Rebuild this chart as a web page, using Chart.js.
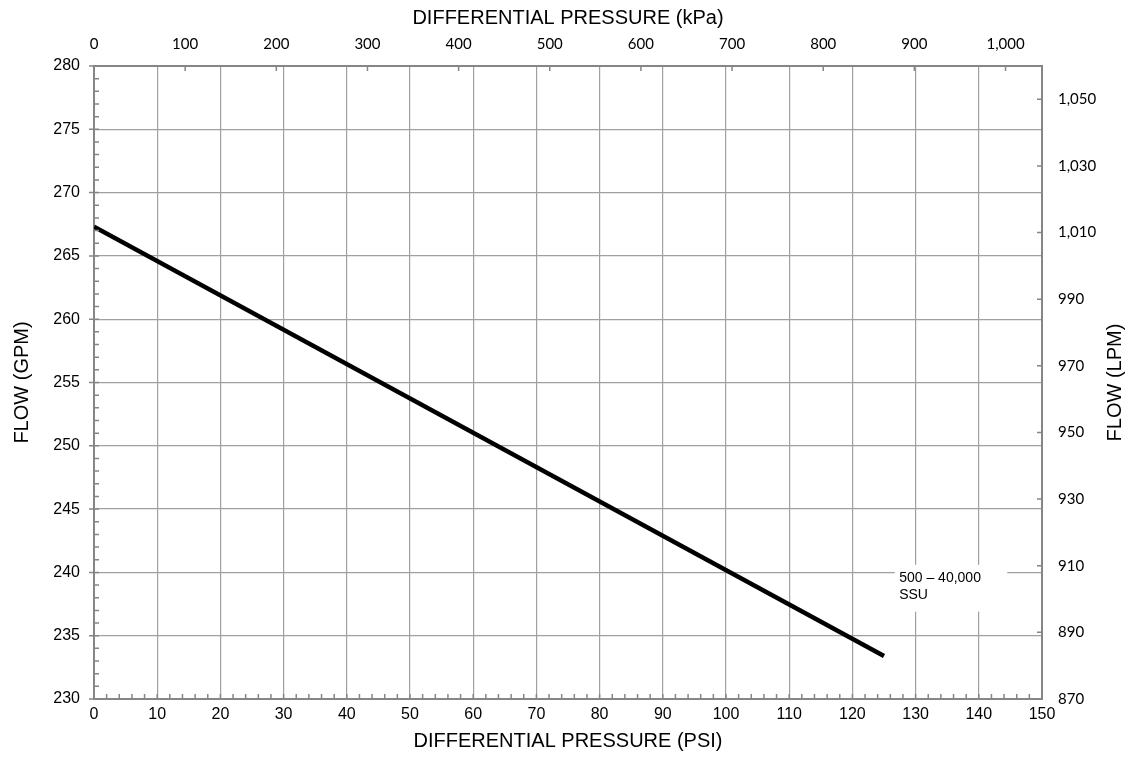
<!DOCTYPE html>
<html>
<head>
<meta charset="utf-8">
<title>Flow vs Differential Pressure</title>
<script src="https://cdn.jsdelivr.net/npm/chart.js@4"></script>
<style>
  html, body { margin: 0; padding: 0; background: #fff; }
  #wrap { width: 1130px; height: 759px; position: relative; }
</style>
</head>
<body>
<div id="wrap"><canvas id="flowChart"></canvas></div>
<script>
// flow curve, PSI vs GPM
const psi = [0, 125];
const gpm = [267.3, 233.4];

// axis ticks
const psiTicks = [0, 10, 20, 30, 40, 50, 60, 70, 80, 90, 100, 110, 120, 130, 140, 150];
const gpmTicks = [230, 235, 240, 245, 250, 255, 260, 265, 270, 275, 280];
const kpaTicks = [0, 100, 200, 300, 400, 500, 600, 700, 800, 900, 1000];
const lpmTicks = [870, 890, 910, 930, 950, 970, 990, 1010, 1030, 1050];

const viscosityLabel = ['500 \u2013 40,000', 'SSU'];

const GRID = '#a0a0a0';
const AXIS = '#868686';
const ARIAL = '"Liberation Sans", Arial, sans-serif';
const CALI = 'Lato, "Open Sans", sans-serif';

const useTicks = (list) => (scale) => {
    scale.ticks = list.map(v => ({ value: v }));
};
const fmt = (v) => Number(v).toLocaleString('en-US');

// --- small tick marks along all four axes ---
const tickMarks = {
    id: 'tickMarks',
    afterDraw(chart) {
        const { ctx, chartArea: a, scales } = chart;
        ctx.save();
        ctx.strokeStyle = AXIS;
        ctx.lineWidth = 1.5;
        ctx.beginPath();
        for (let v = 0; v <= 150; v += 2) {
            const x = scales.x.getPixelForValue(v);
            ctx.moveTo(x, a.bottom);
            ctx.lineTo(x, a.bottom - 5);
        }
        for (let v = 230; v <= 280; v += 1) {
            const y = scales.y.getPixelForValue(v);
            ctx.moveTo(a.left, y);
            ctx.lineTo(a.left + 5, y);
        }
        gpmTicks.forEach(v => {
            const y = scales.y.getPixelForValue(v);
            ctx.moveTo(a.left - 5, y);
            ctx.lineTo(a.left, y);
        });
        kpaTicks.forEach(v => {
            const x = scales.x2.getPixelForValue(v);
            ctx.moveTo(x, a.top);
            ctx.lineTo(x, a.top + 5);
        });
        lpmTicks.forEach(v => {
            const y = scales.y2.getPixelForValue(v);
            ctx.moveTo(a.right - 5, y);
            ctx.lineTo(a.right, y);
        });
        ctx.stroke();

        // right axis title, reading upward
        ctx.fillStyle = '#000';
        ctx.font = '20px ' + ARIAL;
        ctx.textAlign = 'center';
        ctx.textBaseline = 'middle';
        ctx.translate(1115, (a.top + a.bottom) / 2);
        ctx.rotate(-Math.PI / 2);
        ctx.fillText('FLOW (LPM)', 0, 0);
        ctx.restore();
    }
};

// --- viscosity note on a white box ---
const noteBox = {
    id: 'noteBox',
    afterDatasetsDraw(chart) {
        const { ctx, scales: { x, y } } = chart;
        const x0 = x.getPixelForValue(126.7), x1 = x.getPixelForValue(144.5);
        const y0 = y.getPixelForValue(240.6), y1 = y.getPixelForValue(236.9);
        ctx.save();
        ctx.fillStyle = '#fff';
        ctx.fillRect(x0, y0, x1 - x0, y1 - y0);
        ctx.fillStyle = '#000';
        ctx.font = '14px ' + ARIAL;
        ctx.textBaseline = 'middle';
        const tx = x.getPixelForValue(127.4);
        ctx.fillText(viscosityLabel[0], tx, y.getPixelForValue(239.55));
        ctx.fillText(viscosityLabel[1], tx, y.getPixelForValue(238.2));
        ctx.restore();
    }
};

const ctx = document.getElementById('flowChart').getContext('2d');
new Chart(ctx, {
    type: 'line',
    data: {
        datasets: [{
            data: psi.map((p, i) => ({ x: p, y: gpm[i] })),
            borderColor: '#000',
            borderWidth: 4.5,
            pointRadius: 0,
            tension: 0,
            fill: false
        }]
    },
    options: {
        responsive: true,
        maintainAspectRatio: false,
        animation: false,
        devicePixelRatio: 1,
        layout: { padding: 0 },
        plugins: {
            legend: { display: false },
            tooltip: { enabled: false }
        },
        scales: {
            x: {
                type: 'linear',
                position: 'bottom',
                min: 0,
                max: 150,
                afterBuildTicks: useTicks(psiTicks),
                afterFit: s => { s.height = 60; },
                grid: { color: GRID, lineWidth: 1.2, drawTicks: false },
                border: { color: AXIS, width: 2 },
                ticks: {
                    padding: 6, maxRotation: 0, autoSkip: false, color: '#000',
                    font: { family: ARIAL, size: 16 }
                },
                title: {
                    display: true, text: 'DIFFERENTIAL PRESSURE (PSI)', color: '#000',
                    font: { family: ARIAL, size: 20 }, padding: { top: 0, bottom: 6 }
                }
            },
            x2: {
                type: 'linear',
                axis: 'x',
                position: 'top',
                min: 0,
                max: 1040,
                afterBuildTicks: useTicks(kpaTicks),
                afterFit: s => { s.height = 66; },
                grid: { display: false, drawTicks: false },
                border: { color: AXIS, width: 2 },
                ticks: {
                    padding: 13, maxRotation: 0, autoSkip: false, color: '#000',
                    font: { family: CALI, size: 15 },
                    callback: v => fmt(v)
                },
                title: {
                    display: true, text: 'DIFFERENTIAL PRESSURE (kPa)', color: '#000',
                    font: { family: ARIAL, size: 20 }, padding: { top: 6, bottom: 0 }
                }
            },
            y: {
                type: 'linear',
                position: 'left',
                min: 230,
                max: 280,
                afterBuildTicks: useTicks(gpmTicks),
                afterFit: s => { s.width = 94; },
                grid: { color: GRID, lineWidth: 1.2, drawTicks: false },
                border: { color: AXIS, width: 2 },
                ticks: {
                    padding: 14, color: '#000',
                    font: { family: ARIAL, size: 16 }
                },
                title: {
                    display: true, text: 'FLOW (GPM)', color: '#000',
                    font: { family: ARIAL, size: 20 }, padding: { top: 10, bottom: 0 }
                }
            },
            y2: {
                type: 'linear',
                axis: 'y',
                position: 'right',
                min: 870,
                max: 1060,
                afterBuildTicks: useTicks(lpmTicks),
                afterFit: s => { s.width = 88; },
                grid: { display: false, drawTicks: false },
                border: { color: AXIS, width: 2 },
                ticks: {
                    padding: 16, color: '#000',
                    font: { family: CALI, size: 15 },
                    callback: v => fmt(v)
                }
            }
        }
    },
    plugins: [noteBox, tickMarks]
});
</script>
</body>
</html>
